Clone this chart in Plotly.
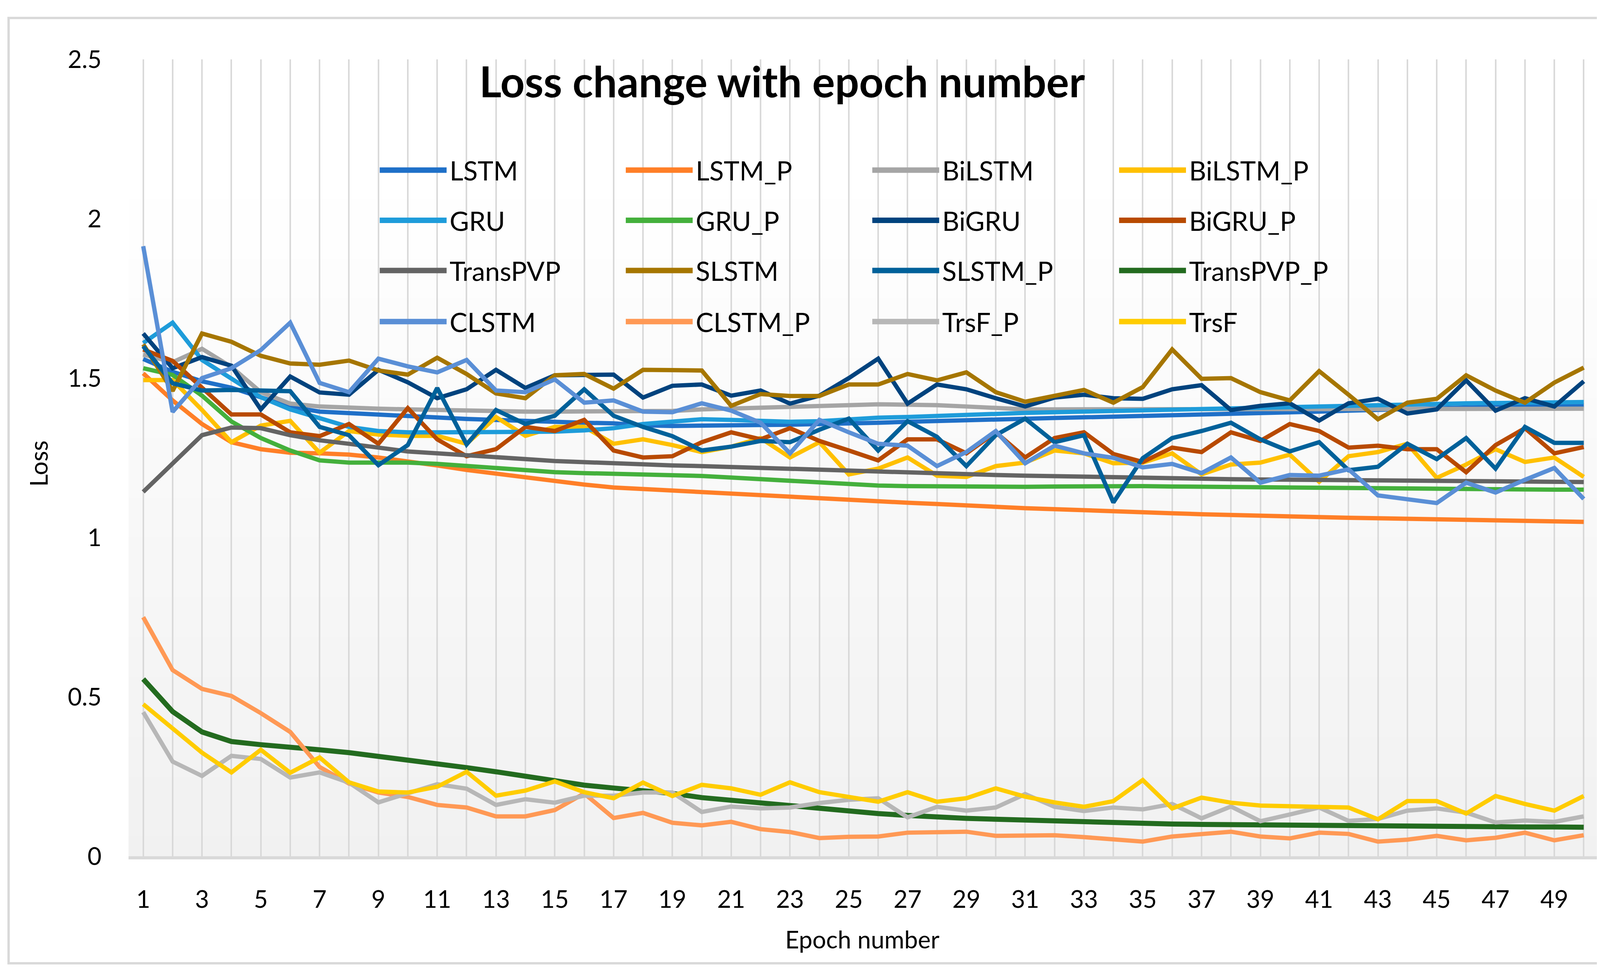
import plotly.graph_objects as go

epochs = list(range(1, 51))

LSTM = [1.56,1.52,1.49,1.47,1.44,1.41,1.395,1.39,1.387,1.383,1.377,1.372,1.369,1.365,1.363,1.36,1.358,1.352,1.35,1.35,1.351,1.353,1.354,1.355,1.356,1.36,1.363,1.366,1.369,1.371,1.373,1.375,1.377,1.379,1.38,1.382,1.385,1.387,1.39,1.392,1.395,1.398,1.401,1.404,1.406,1.408,1.41,1.412,1.414,1.415]
LSTM_P = [1.515,1.43,1.356,1.299,1.277,1.266,1.264,1.26,1.251,1.24,1.226,1.212,1.2,1.188,1.177,1.166,1.157,1.152,1.146,1.141,1.137,1.133,1.128,1.123,1.118,1.114,1.109,1.105,1.1,1.096,1.092,1.089,1.085,1.082,1.079,1.076,1.073,1.07,1.068,1.066,1.064,1.062,1.06,1.058,1.056,1.055,1.053,1.052,1.05,1.049]
BiLSTM = [1.574,1.55,1.592,1.535,1.456,1.42,1.411,1.406,1.404,1.402,1.40,1.397,1.395,1.395,1.395,1.395,1.395,1.395,1.397,1.402,1.404,1.409,1.411,1.413,1.415,1.418,1.418,1.415,1.411,1.406,1.402,1.402,1.402,1.402,1.403,1.403,1.403,1.404,1.404,1.404,1.404,1.404,1.404,1.404,1.404,1.404,1.404,1.404,1.404,1.404]
BiLSTM_P = [1.494,1.494,1.40,1.299,1.351,1.366,1.266,1.334,1.323,1.319,1.319,1.294,1.378,1.319,1.347,1.347,1.294,1.308,1.29,1.268,1.285,1.312,1.251,1.299,1.198,1.216,1.251,1.194,1.19,1.224,1.235,1.273,1.264,1.233,1.235,1.264,1.198,1.229,1.235,1.26,1.175,1.255,1.268,1.294,1.187,1.229,1.277,1.237,1.251,1.19]
GRU = [1.61,1.674,1.557,1.50,1.44,1.402,1.373,1.347,1.334,1.33,1.33,1.33,1.33,1.33,1.332,1.336,1.343,1.356,1.365,1.371,1.369,1.365,1.363,1.365,1.371,1.376,1.378,1.382,1.385,1.387,1.391,1.393,1.395,1.40,1.401,1.403,1.405,1.407,1.409,1.411,1.413,1.415,1.417,1.419,1.42,1.421,1.422,1.423,1.424,1.425]
GRU_P = [1.531,1.51,1.445,1.364,1.312,1.273,1.242,1.235,1.235,1.235,1.231,1.224,1.216,1.209,1.205,1.202,1.2,1.198,1.196,1.193,1.188,1.183,1.178,1.172,1.167,1.163,1.161,1.16,1.159,1.159,1.159,1.16,1.161,1.161,1.161,1.16,1.159,1.158,1.157,1.157,1.156,1.156,1.155,1.155,1.154,1.153,1.152,1.151,1.15,1.15]
BiGRU = [1.64,1.531,1.566,1.539,1.402,1.505,1.455,1.448,1.526,1.487,1.437,1.465,1.526,1.469,1.509,1.511,1.511,1.439,1.476,1.48,1.445,1.461,1.42,1.445,1.50,1.561,1.42,1.48,1.465,1.437,1.411,1.439,1.448,1.437,1.435,1.465,1.478,1.40,1.413,1.421,1.367,1.421,1.435,1.389,1.402,1.493,1.398,1.437,1.411,1.49]
BiGRU_P = [1.59,1.554,1.47,1.386,1.386,1.33,1.318,1.356,1.294,1.406,1.308,1.255,1.277,1.347,1.334,1.369,1.273,1.251,1.255,1.299,1.33,1.308,1.343,1.303,1.273,1.242,1.308,1.308,1.264,1.33,1.251,1.312,1.33,1.262,1.237,1.282,1.268,1.33,1.303,1.356,1.334,1.282,1.288,1.277,1.277,1.205,1.29,1.343,1.264,1.284]
TransPVP = [1.143,1.233,1.321,1.345,1.343,1.321,1.305,1.294,1.282,1.27,1.264,1.257,1.251,1.246,1.24,1.236,1.231,1.228,1.226,1.224,1.221,1.218,1.214,1.211,1.209,1.207,1.203,1.2,1.198,1.196,1.194,1.192,1.19,1.188,1.186,1.185,1.184,1.183,1.182,1.181,1.18,1.179,1.178,1.177,1.176,1.176,1.175,1.175,1.174,1.174]
SLSTM = [1.606,1.46,1.64,1.614,1.57,1.546,1.542,1.555,1.524,1.511,1.564,1.513,1.452,1.437,1.509,1.513,1.467,1.526,1.525,1.524,1.413,1.45,1.444,1.444,1.48,1.48,1.513,1.493,1.518,1.456,1.426,1.444,1.463,1.423,1.472,1.59,1.498,1.50,1.456,1.43,1.522,1.448,1.371,1.423,1.435,1.509,1.461,1.423,1.486,1.533]
SLSTM_P = [1.60,1.484,1.461,1.463,1.461,1.459,1.347,1.321,1.227,1.29,1.469,1.292,1.40,1.356,1.382,1.465,1.382,1.347,1.318,1.273,1.285,1.303,1.299,1.338,1.373,1.273,1.365,1.316,1.224,1.321,1.373,1.299,1.321,1.11,1.249,1.312,1.334,1.36,1.308,1.27,1.299,1.211,1.222,1.294,1.246,1.312,1.216,1.347,1.297,1.297]
TransPVP_P = [0.556,0.454,0.39,0.36,0.35,0.343,0.334,0.325,0.314,0.303,0.29,0.278,0.265,0.25,0.236,0.223,0.214,0.205,0.197,0.184,0.175,0.166,0.158,0.149,0.141,0.134,0.128,0.122,0.119,0.116,0.113,0.11,0.107,0.105,0.103,0.101,0.1,0.099,0.098,0.097,0.096,0.095,0.095,0.094,0.094,0.093,0.093,0.092,0.092,0.091]
CLSTM = [1.914,1.394,1.50,1.531,1.588,1.674,1.485,1.456,1.561,1.537,1.518,1.557,1.461,1.456,1.496,1.423,1.43,1.395,1.393,1.421,1.398,1.36,1.264,1.369,1.33,1.294,1.288,1.224,1.268,1.334,1.233,1.288,1.264,1.25,1.22,1.231,1.202,1.251,1.172,1.196,1.194,1.214,1.132,1.121,1.108,1.172,1.141,1.181,1.218,1.121]
CLSTM_P = [0.75,0.584,0.525,0.503,0.449,0.39,0.28,0.228,0.2,0.186,0.161,0.153,0.125,0.125,0.145,0.197,0.12,0.136,0.105,0.097,0.108,0.085,0.076,0.057,0.061,0.062,0.074,0.077,0.077,0.064,0.066,0.066,0.06,0.053,0.046,0.062,0.069,0.077,0.062,0.056,0.074,0.07,0.046,0.052,0.064,0.05,0.058,0.074,0.05,0.066]
TrsF_P = [0.452,0.297,0.252,0.315,0.305,0.247,0.263,0.231,0.169,0.198,0.226,0.212,0.161,0.179,0.168,0.19,0.19,0.2,0.2,0.139,0.156,0.15,0.153,0.167,0.177,0.182,0.122,0.155,0.143,0.153,0.195,0.155,0.142,0.153,0.147,0.164,0.119,0.156,0.11,0.131,0.153,0.111,0.117,0.143,0.15,0.137,0.106,0.112,0.108,0.125]
TrsF = [0.477,0.399,0.325,0.263,0.334,0.262,0.31,0.232,0.203,0.2,0.218,0.265,0.19,0.206,0.235,0.201,0.182,0.231,0.189,0.224,0.213,0.193,0.232,0.201,0.185,0.171,0.201,0.171,0.182,0.213,0.187,0.169,0.155,0.173,0.239,0.15,0.184,0.168,0.159,0.156,0.155,0.153,0.116,0.173,0.173,0.134,0.189,0.164,0.143,0.189]

series_names = ["LSTM", "LSTM_P", "BiLSTM", "BiLSTM_P",
                "GRU", "GRU_P", "BiGRU", "BiGRU_P",
                "TransPVP", "SLSTM", "SLSTM_P", "TransPVP_P",
                "CLSTM", "CLSTM_P", "TrsF_P", "TrsF"]
series_values = [LSTM, LSTM_P, BiLSTM, BiLSTM_P,
                 GRU, GRU_P, BiGRU, BiGRU_P,
                 TransPVP, SLSTM, SLSTM_P, TransPVP_P,
                 CLSTM, CLSTM_P, TrsF_P, TrsF]
series_colors = ["#1F70C8", "#FF7F27", "#A5A5A5", "#FFC000",
                 "#1E9CDA", "#44B03C", "#00437E", "#B84A00",
                 "#646464", "#A67600", "#00619A", "#236B1F",
                 "#5A8FD6", "#FF9955", "#B7B7B7", "#FFCC00"]

x_tick_vals = epochs
x_tick_text = [str(e) if e % 2 == 1 else "" for e in epochs]
y_tick_vals = [0, 0.5, 1, 1.5, 2, 2.5]
y_tick_text = ["0", "0.5", "1", "1.5", "2", "2.5"]

FONT = "Lato"
# slightly smaller than the window to compensate the 8px default body margin
W, H = 4251, 2488
ML, MR, MT, MB = 321, 167, 144, 304

fig = go.Figure()
for name, vals, col in zip(series_names, series_values, series_colors):
    lw = 13 if name == "TransPVP_P" else 11
    fig.add_trace(go.Scatter(x=epochs, y=vals, mode="lines", name=name,
                             line=dict(color=col, width=lw), showlegend=False))

shapes = []
# plot-area vertical gradient (white at top -> light grey at bottom)
n_bands = 40
for i in range(n_bands):
    y0 = i / n_bands
    y1 = (i + 1) / n_bands
    t = min(1.0, ((y0 + y1) / 2) / 0.85)
    g = int(round(241 + (255 - 241) * t))
    shapes.append(dict(type="rect", xref="paper", yref="paper", x0=0, x1=1,
                       y0=y0, y1=y1 + 0.002, line=dict(width=0),
                       fillcolor=f"rgb({g},{g},{g})", layer="below"))
# outer chart frame
shapes.append(dict(type="rect", xref="paper", yref="paper",
                   x0=-0.0816, x1=1.0364, y0=-0.1343, y1=1.052,
                   line=dict(color="#D9D9D9", width=6), fillcolor="rgba(0,0,0,0)",
                   layer="below"))

annotations = []
# custom legend (4 columns x 4 rows)
leg_cols = [0.1709, 0.3383, 0.5060, 0.6739]
leg_rows = [0.861, 0.798, 0.735, 0.671]
seg_len = 0.0455
text_off = 0.0470
for i, (name, col) in enumerate(zip(series_names, series_colors)):
    r, c = divmod(i, 4)
    x0 = leg_cols[c]
    y = leg_rows[r]
    shapes.append(dict(type="line", xref="paper", yref="paper",
                       x0=x0, x1=x0 + seg_len, y0=y, y1=y,
                       line=dict(color=col, width=14), layer="above"))
    annotations.append(dict(xref="paper", yref="paper", x=x0 + text_off, y=y,
                            text=name, showarrow=False, xanchor="left", yanchor="middle",
                            font=dict(family=FONT, size=68, color="#000000")))

# title
annotations.append(dict(xref="paper", yref="paper", x=0.4446, y=0.9735,
                        text="<b>Loss change with epoch number</b>", showarrow=False,
                        xanchor="center", yanchor="middle",
                        font=dict(family=FONT, size=109, color="#000000")))
# axis titles
annotations.append(dict(xref="paper", yref="paper", x=0.4993, y=-0.104,
                        text="Epoch number", showarrow=False,
                        xanchor="center", yanchor="middle",
                        font=dict(family=FONT, size=62, color="#000000")))
annotations.append(dict(xref="paper", yref="paper", x=-0.0614, y=0.4926,
                        text="Loss", showarrow=False, textangle=-90,
                        xanchor="center", yanchor="middle",
                        font=dict(family=FONT, size=62, color="#000000")))

fig.update_layout(
    width=W, height=H,
    margin=dict(l=ML, r=MR, t=MT, b=MB, pad=0),
    paper_bgcolor="white", plot_bgcolor="white",
    shapes=shapes, annotations=annotations,
    font=dict(family=FONT, color="#000000"),
    xaxis=dict(range=[0.5, 50.5], tickmode="array", tickvals=x_tick_vals,
               ticktext=x_tick_text, showgrid=True, gridcolor="#D9D9D9", gridwidth=4,
               zeroline=False, showline=True, linecolor="#D9D9D9", linewidth=8,
               ticks="", ticklabelstandoff=50, automargin=False,
               tickfont=dict(family=FONT, size=62, color="#000000")),
    yaxis=dict(range=[0, 2.5], tickmode="array", tickvals=y_tick_vals,
               ticktext=y_tick_text, showgrid=False, zeroline=False, showline=False,
               ticks="", ticklabelstandoff=68, automargin=False,
               tickfont=dict(family=FONT, size=62, color="#000000")),
)

fig.write_html("out.html")
